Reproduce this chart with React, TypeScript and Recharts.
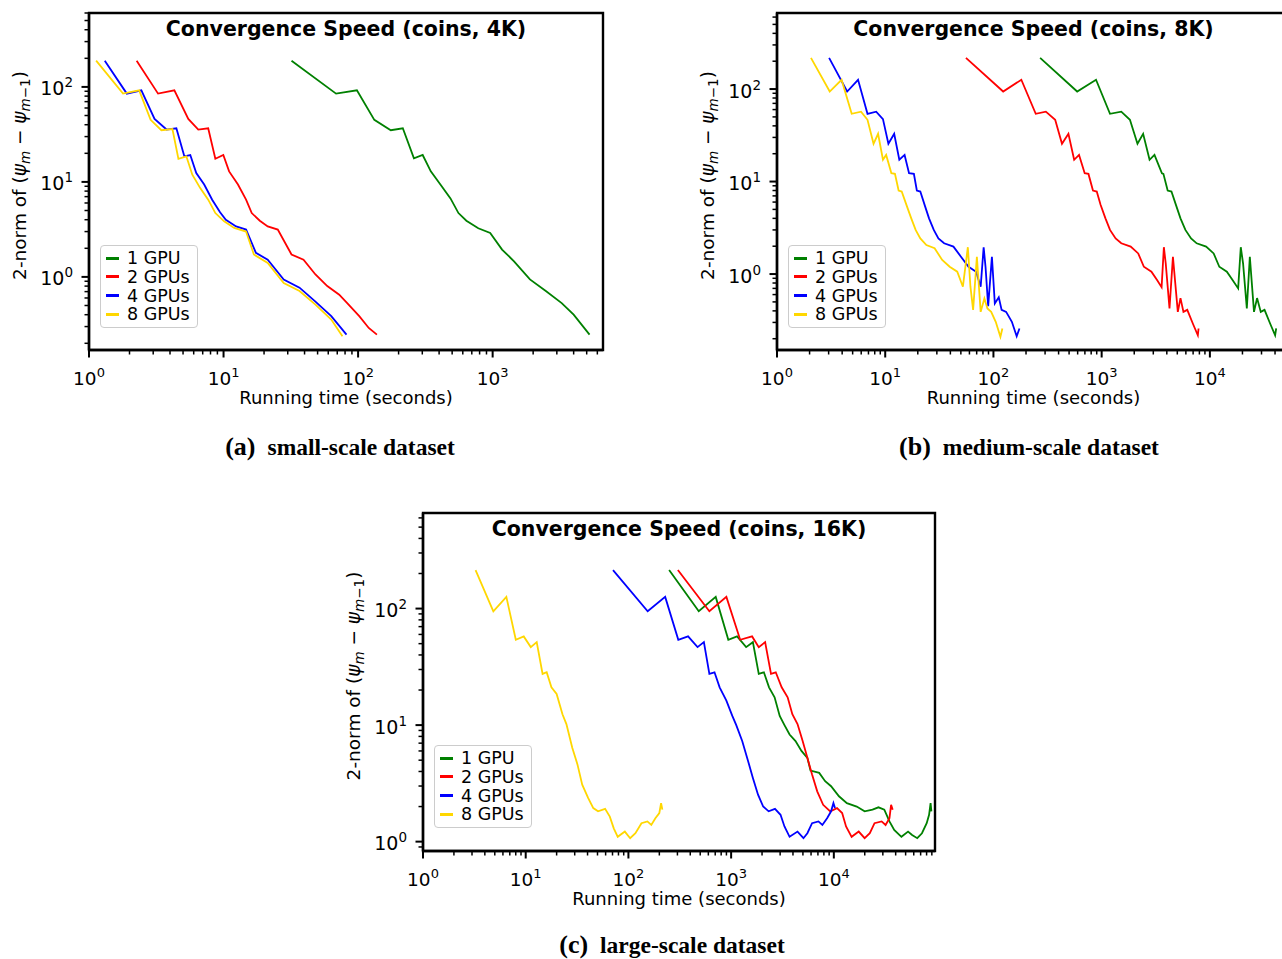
import React from 'react';
import { LineChart, Line, XAxis, YAxis, Legend, ReferenceArea } from 'recharts';

// ---------- series meta ----------
const seriesNames = ['1 GPU', '2 GPUs', '4 GPUs', '8 GPUs'];
const seriesColors = ['#008000', '#ff0000', '#0000ff', '#ffd700'];

// ---------- panel (a): coins, 4K ----------
const a1T = [32, 68.6, 98, 132, 175, 215, 260, 302, 347, 418, 486, 557, 638, 782, 959, 1175, 1442, 1893, 2485, 3260, 4000, 5250];
const a1V = [189, 85, 92, 45, 35, 36.7, 17.7, 19.2, 12.9, 9.0, 6.7, 4.7, 3.9, 3.25, 2.9, 1.94, 1.46, 0.94, 0.71, 0.53, 0.40, 0.247];
const a2T = [2.26, 3.26, 4.31, 5.47, 6.49, 7.69, 8.69, 9.96, 11.0, 12.8, 14.7, 16.2, 18.6, 21.3, 25.3, 32, 39.3, 48.2, 59, 72.4, 83, 102, 120, 138];
const a2V = [189, 85, 92, 46, 35.6, 36.7, 17.5, 19.2, 12.9, 9.4, 6.5, 4.7, 3.9, 3.4, 3.15, 1.72, 1.52, 1.06, 0.80, 0.65, 0.53, 0.386, 0.29, 0.247];
const a4T = [1.31, 1.91, 2.45, 3.07, 3.77, 4.46, 5.11, 5.66, 6.27, 7.18, 8.23, 9.42, 10.4, 12.4, 14.7, 17.4, 21.3, 28, 36.7, 48.2, 63.2, 82];
const a4V = [189, 85, 92, 46, 35.6, 36.7, 18.6, 19.2, 12.4, 9.4, 6.5, 4.8, 4.0, 3.4, 3.15, 1.79, 1.52, 0.94, 0.77, 0.55, 0.386, 0.247];
const a8T = [1.13, 1.79, 2.36, 2.87, 3.45, 4.17, 4.62, 5.29, 5.86, 6.71, 7.69, 8.69, 10.1, 12.0, 14.7, 16.8, 21.3, 28, 36.7, 48.2, 63.2, 76.5];
const a8V = [189, 85, 92, 45, 35, 36, 17.5, 18.6, 11.9, 8.6, 6.5, 4.7, 3.85, 3.28, 3.0, 1.72, 1.40, 0.86, 0.71, 0.51, 0.355, 0.237];

// ---------- panel (b): coins, 8K ----------
const b1T = [270, 594, 887, 1194, 1518, 1825, 2143, 2417, 2772, 3076, 3607, 3720, 4074, 4415, 4856, 5350, 5940, 6700, 7550, 9230, 10840, 12220, 14350, 16200, 18250, 19300, 20270, 21950, 23400, 25570, 27290, 29520, 31990, 36100, 40080, 41000];
const b1V = [217, 94, 126, 54, 57, 46.5, 25.6, 32.8, 17.2, 19.4, 12.3, 12.1, 8.0, 7.8, 5.6, 4.0, 3.0, 2.43, 2.15, 1.98, 1.67, 1.2, 1.06, 0.86, 0.70, 1.95, 1.3, 0.425, 1.54, 0.39, 0.55, 0.39, 0.41, 0.29, 0.218, 0.258];
const b2T = [55.7, 123, 181, 246, 305, 372, 430, 493, 557, 618, 697, 755, 831, 901, 977, 1084, 1194, 1346, 1518, 1855, 2177, 2455, 2883, 3250, 3580, 3757, 3910, 4235, 4556, 5055, 5350, 5700, 6180, 6970, 7740, 7860];
const b2V = [217, 94, 126, 54, 57, 46.5, 25.6, 32.8, 17.2, 19.4, 12.3, 12.1, 8.0, 7.8, 5.6, 4.0, 3.0, 2.43, 2.15, 1.98, 1.67, 1.2, 1.06, 0.86, 0.72, 1.95, 1.3, 0.425, 1.54, 0.39, 0.55, 0.39, 0.41, 0.29, 0.218, 0.258];
const b4T = [3.03, 4.45, 5.61, 6.86, 8.25, 9.53, 10.7, 12.1, 13.5, 15.1, 16.6, 18.4, 19.6, 21.1, 23.4, 25.4, 28.1, 31, 35, 42.7, 50.1, 58.9, 69.2, 76.2, 81.2, 84.5, 89.4, 96.8, 103, 112, 119, 131, 148, 164, 174];
const b4V = [217, 94, 126, 54, 57, 47.3, 25.6, 32.8, 17.2, 19.4, 12.3, 12.1, 8.0, 7.8, 5.36, 4.0, 3.0, 2.43, 2.15, 1.98, 1.54, 1.2, 1.06, 0.73, 1.95, 1.2, 0.45, 1.54, 0.48, 0.56, 0.41, 0.39, 0.305, 0.213, 0.258];
const b8T = [2.06, 3.07, 3.95, 4.9, 5.98, 6.86, 7.8, 8.59, 9.53, 10.2, 11.4, 12.3, 13.3, 14.2, 15.7, 17.4, 19.1, 21.1, 24, 28.6, 33.6, 39.4, 46.3, 52.2, 58, 61.3, 64.9, 70.3, 76.2, 82.5, 88, 95.3, 105, 116, 121];
const b8V = [217, 94, 126, 54, 57, 46.5, 25.6, 32.8, 17.2, 19.4, 12.3, 12.1, 8.0, 7.8, 5.6, 4.0, 3.0, 2.43, 2.06, 1.9, 1.42, 1.2, 1.06, 0.73, 1.95, 0.73, 0.41, 1.54, 0.39, 0.545, 0.425, 0.39, 0.305, 0.21, 0.258];

// ---------- panel (c): coins, 16K ----------
const c1T = [249, 484, 708, 939, 1143, 1400, 1629, 1858, 2084, 2339, 2650, 2972, 3306, 3708, 4236, 4840, 5525, 5930, 7205, 8230, 9400, 11220, 13400, 16700, 19950, 23800, 27200, 31000, 34800, 38700, 45500, 52800, 57800, 64900, 72100, 80200, 84600, 87500, 89100];
const c1V = [214, 94.8, 126, 54, 57.7, 46.7, 51.5, 27.5, 28.4, 21.1, 17.3, 12.0, 10.0, 8.3, 7.3, 6.0, 5.24, 4.07, 3.89, 3.3, 2.99, 2.45, 2.14, 2.0, 1.82, 1.88, 1.97, 1.88, 1.49, 1.26, 1.10, 1.22, 1.14, 1.07, 1.18, 1.44, 1.70, 2.14, 1.82];
const c2T = [303, 614, 899, 1225, 1600, 1858, 2143, 2445, 2720, 3105, 3550, 3945, 4430, 4970, 5525, 6140, 6890, 7870, 9230, 10740, 12050, 13150, 14900, 17470, 19950, 22400, 24900, 29200, 31900, 34800, 36100, 37400];
const c2V = [214, 94.8, 126, 54, 57.7, 46.7, 51.5, 27.5, 28.4, 21.1, 17.3, 12.4, 10.2, 7.3, 5.24, 3.76, 2.70, 2.07, 1.82, 1.94, 1.76, 1.35, 1.10, 1.22, 1.07, 1.18, 1.44, 1.49, 1.39, 1.59, 2.07, 1.88];
const c4T = [70.8, 154, 228, 306, 381, 471, 543, 614, 689, 773, 899, 1027, 1122, 1282, 1464, 1629, 1828, 2051, 2319, 2673, 3027, 3306, 3708, 4430, 5060, 5525, 6140, 7080, 7730, 8600, 9400, 9910, 10270];
const c4V = [214, 94.8, 126, 54, 57.7, 46.7, 51.5, 27.5, 28.4, 21.1, 16.2, 12.0, 10.0, 7.3, 4.9, 3.52, 2.53, 2.0, 1.82, 1.91, 1.70, 1.35, 1.10, 1.22, 1.07, 1.18, 1.44, 1.49, 1.39, 1.59, 1.82, 2.14, 1.94];
const c8T = [3.25, 4.84, 6.48, 8.01, 9.57, 11.2, 12.8, 14.6, 16, 17.8, 20, 22.8, 24.9, 28.4, 31.9, 35.5, 40.5, 45.5, 50.6, 59.3, 65.9, 72, 78.7, 92.3, 104, 117, 134, 153, 167, 183, 200, 208, 214];
const c8V = [214, 94.8, 126, 54, 57.7, 46.7, 51.5, 27.5, 28.4, 21.1, 18.5, 12.4, 10.2, 6.4, 4.6, 3.08, 2.37, 1.94, 1.82, 1.91, 1.64, 1.30, 1.10, 1.22, 1.07, 1.18, 1.44, 1.49, 1.39, 1.59, 1.76, 2.14, 1.88];

// ---------- tick labels (major decades) ----------
const aXMajor = [1, 10, 100, 1000];
const bXMajor = [1, 10, 100, 1000, 10000];
const cXMajor = [1, 10, 100, 1000, 10000];
const yMajor = [1, 10, 100];

const titles = ['Convergence Speed (coins, 4K)', 'Convergence Speed (coins, 8K)', 'Convergence Speed (coins, 16K)'];
const captionTags = ['(a)', '(b)', '(c)'];
const captionTexts = ['small-scale dataset', 'medium-scale dataset', 'large-scale dataset'];
const xLabel = 'Running time (seconds)';

const FONT = "'DejaVu Sans', sans-serif";
const SERIF = "'Liberation Serif', 'Times New Roman', serif";

const zip = (t: number[], v: number[]) => t.map((x, i) => ({ t: x, v: v[i] }));

function logTicks(lo: number, hi: number): number[] {
  const out: number[] = [];
  for (let e = -2; e <= 6; e++) {
    for (let m = 1; m <= 9; m++) {
      const v = m * Math.pow(10, e);
      if (v >= lo * 0.999 && v <= hi * 1.001) out.push(v);
    }
  }
  return out;
}

const TICK_FS = 18.5;
const SUP_FS = 13;

function makeXTick(major: number[]) {
  return (props: any) => {
    const { x, y, payload } = props;
    const v = payload.value;
    const isMaj = major.some((m) => Math.abs(m - v) / m < 1e-6);
    const e = Math.round(Math.log10(v));
    return (
      <g>
        <line x1={x} x2={x} y1={y} y2={y + (isMaj ? 7.5 : 4.5)} stroke="#000" strokeWidth={isMaj ? 2 : 1.5} />
        {isMaj && (
          <text x={x} y={y + 35} textAnchor="middle" fontFamily={FONT} fontSize={TICK_FS} fill="#000">
            <tspan>10</tspan>
            <tspan fontSize={SUP_FS} dy={-8}>{String(e)}</tspan>
          </text>
        )}
      </g>
    );
  };
}

function makeYTick(major: number[]) {
  return (props: any) => {
    const { x, y, payload } = props;
    const v = payload.value;
    const isMaj = major.some((m) => Math.abs(m - v) / m < 1e-6);
    const e = Math.round(Math.log10(v));
    return (
      <g>
        <line x1={x} x2={x - (isMaj ? 7.5 : 4.5)} y1={y} y2={y} stroke="#000" strokeWidth={isMaj ? 2 : 1.5} />
        {isMaj && (
          <text x={x - 16} y={y + 8.5} textAnchor="end" fontFamily={FONT} fontSize={19} fill="#000">
            <tspan>10</tspan>
            <tspan fontSize={13.5} dy={-8}>{String(e)}</tspan>
          </text>
        )}
      </g>
    );
  };
}

type Series = { name: string; color: string; t: number[]; v: number[] };

const PAD_L = 100;
const PAD_T = 40;
const PAD_R = 40;
const PAD_B = 60;

function LegendBox(props: any) {
  const items = (props.payload && props.payload.length
    ? props.payload.map((p: any) => ({ name: p.value, color: p.color }))
    : seriesNames.map((n, i) => ({ name: n, color: seriesColors[i] })));
  return (
    <div
      style={{
        boxSizing: 'border-box',
        width: 98,
        height: 83,
        border: '1.2px solid #cccccc',
        borderRadius: 4,
        background: 'rgba(255,255,255,0.8)',
        paddingTop: 3,
        paddingLeft: 5,
        fontFamily: FONT,
        fontSize: 17.5,
        color: '#000',
        textAlign: 'left',
      }}
    >
      {items.map((it: any) => (
        <div key={it.name} style={{ display: 'flex', alignItems: 'center', height: 18.67, whiteSpace: 'nowrap' }}>
          <span style={{ display: 'inline-block', width: 13, height: 3, background: it.color, marginRight: 8 }} />
          <span style={{ lineHeight: '18px' }}>{it.name}</span>
        </div>
      ))}
    </div>
  );
}

type PanelProps = {
  plotLeft: number;
  plotTop: number;
  plotW: number;
  plotH: number;
  xDomain: [number, number];
  yDomain: [number, number];
  xMajor: number[];
  title: string;
  series: Series[];
};

function Panel(p: PanelProps) {
  const W = p.plotW + PAD_L + PAD_R;
  const H = p.plotH + PAD_T + PAD_B;
  const xTicks = logTicks(p.xDomain[0], p.xDomain[1]);
  const yTicks = logTicks(p.yDomain[0], p.yDomain[1]);
  const cx = PAD_L + p.plotW / 2;
  const ylx = PAD_L - 63;
  const yly = PAD_T + p.plotH / 2 - 6;
  const frame = { stroke: '#000', strokeWidth: 2.4 };
  return (
    <div style={{ position: 'absolute', left: p.plotLeft - PAD_L, top: p.plotTop - PAD_T, width: W, height: H }}>
      <LineChart width={W} height={H} margin={{ top: PAD_T, right: PAD_R, bottom: 0, left: 0 }}>
        <XAxis
          xAxisId="b"
          dataKey="t"
          type="number"
          scale="log"
          domain={p.xDomain}
          allowDataOverflow
          ticks={xTicks}
          interval={0}
          tickSize={0}
          tickMargin={0}
          height={PAD_B}
          axisLine={frame}
          tickLine={false}
          tick={makeXTick(p.xMajor)}
          label={() => (
            <g>
              <text x={cx} y={PAD_T + p.plotH + 54} textAnchor="middle" fontFamily={FONT} fontSize={18} fill="#000">
                {xLabel}
              </text>
              <text x={cx} y={PAD_T + 23} textAnchor="middle" fontFamily={FONT} fontWeight="bold" fontSize={20.5} fill="#000">
                {p.title}
              </text>
            </g>
          )}
        />
        <YAxis
          yAxisId="l"
          type="number"
          scale="log"
          domain={p.yDomain}
          allowDataOverflow
          ticks={yTicks}
          interval={0}
          tickSize={0}
          tickMargin={0}
          width={PAD_L}
          axisLine={frame}
          tickLine={false}
          tick={makeYTick(yMajor)}
          label={() => (
            <text
              x={ylx}
              y={yly}
              transform={`rotate(-90 ${ylx} ${yly})`}
              textAnchor="middle"
              fontFamily={FONT}
              fontSize={18.5}
              fill="#000"
            >
              <tspan>{'2-norm of ('}</tspan>
              <tspan fontStyle="italic">{'ψ'}</tspan>
              <tspan fontStyle="italic" fontSize={13.5} dy={4}>{'m'}</tspan>
              <tspan dy={-4}>{' − '}</tspan>
              <tspan fontStyle="italic">{'ψ'}</tspan>
              <tspan fontStyle="italic" fontSize={13.5} dy={4}>{'m'}</tspan>
              <tspan fontSize={13.5}>{'−1'}</tspan>
              <tspan dy={-4}>{')'}</tspan>
            </text>
          )}
        />
        {p.series.map((s) => (
          <Line
            key={s.name}
            xAxisId="b"
            yAxisId="l"
            data={zip(s.t, s.v)}
            dataKey="v"
            name={s.name}
            type="linear"
            stroke={s.color}
            strokeWidth={1.8}
            dot={false}
            activeDot={false}
            isAnimationActive={false}
          />
        ))}
        <ReferenceArea
          xAxisId="b"
          yAxisId="l"
          x1={p.xDomain[0]}
          x2={p.xDomain[1]}
          y1={p.yDomain[0]}
          y2={p.yDomain[1]}
          fill="none"
          fillOpacity={0}
          stroke="#000"
          strokeWidth={2.4}
          strokeOpacity={1}
          ifOverflow="visible"
        />
        <Legend
          layout="vertical"
          align="center"
          verticalAlign="middle"
          wrapperStyle={{ left: PAD_L + 11, top: PAD_T + 232, width: 98, height: 83, margin: 0, padding: 0 }}
          content={(props: any) => <LegendBox payload={props.payload} />}
        />
      </LineChart>
    </div>
  );
}

const mk = (ts: number[][], vs: number[][]): Series[] =>
  ts.map((t, i) => ({ name: seriesNames[i], color: seriesColors[i], t, v: vs[i] }));

const seriesA = mk([a1T, a2T, a4T, a8T], [a1V, a2V, a4V, a8V]);
const seriesB = mk([b1T, b2T, b4T, b8T], [b1V, b2V, b4V, b8V]);
const seriesC = mk([c1T, c2T, c4T, c8T], [c1V, c2V, c4V, c8V]);

export default function App() {
  return (
    <div style={{ position: 'absolute', left: 0, top: 0, width: 1282, height: 959, overflow: 'hidden', background: '#fff' }}>
      <Panel plotLeft={89} plotTop={13} plotW={514} plotH={337} xDomain={[1, 6610]} yDomain={[0.17, 600]} xMajor={aXMajor} title={titles[0]} series={seriesA} />
      <Panel plotLeft={777} plotTop={13} plotW={513} plotH={337} xDomain={[1, 55000]} yDomain={[0.151, 664]} xMajor={bXMajor} title={titles[1]} series={seriesB} />
      <Panel plotLeft={423} plotTop={513} plotW={512} plotH={338} xDomain={[1, 96600]} yDomain={[0.831, 661]} xMajor={cXMajor} title={titles[2]} series={seriesC} />
      <svg width={1282} height={959} style={{ position: 'absolute', left: 0, top: 0, pointerEvents: 'none' }}>
        {[
          { x: 340, y: 455 },
          { x: 1029, y: 455 },
          { x: 672, y: 953 },
        ].map((c, i) => (
          <text key={i} x={c.x} y={c.y} textAnchor="middle" fontFamily={SERIF} fontWeight="bold" fill="#000">
            <tspan fontSize={26}>{captionTags[i]}</tspan>
            <tspan fontSize={23.5} dx={12}>{captionTexts[i]}</tspan>
          </text>
        ))}
      </svg>
    </div>
  );
}
